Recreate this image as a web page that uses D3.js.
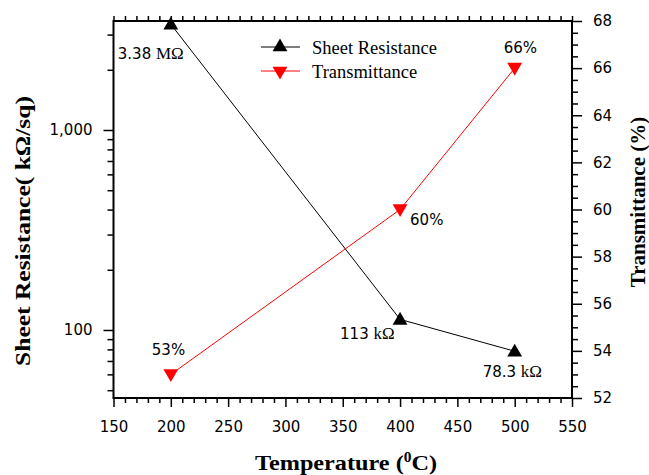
<!DOCTYPE html>
<html>
<head>
<meta charset="utf-8">
<script src="https://cdn.jsdelivr.net/npm/d3@7/dist/d3.min.js"></script>
<style>
  html, body { margin: 0; padding: 0; background: #fff; }
  svg { display: block; }
</style>
</head>
<body>
<svg id="chart" width="649" height="475"></svg>
<script>
// ---- data ----
const temperatures = [200, 400, 500];
const sheetResistance = [3380, 113, 78.3];          // kΩ/sq
const transmittance = [53, 60, 66];                  // %
const resistanceNumbers = ["3.38", "113", "78.3"];
const resistanceUnits = ["MΩ", "kΩ", "kΩ"];
const transmittanceLabels = ["53%", "60%", "66%"];
const xTickValues = [150, 200, 250, 300, 350, 400, 450, 500, 550];
const leftTickValues = [100, 1000];
const rightTickValues = [52, 54, 56, 58, 60, 62, 64, 66, 68];
const seriesNames = ["Sheet Resistance", "Transmittance"];

// ---- layout ----
const L = 113.5, R = 572, T = 21, B = 398;
const svg = d3.select("#chart");
const tickFont = "'DejaVu Sans', sans-serif";
const serif = "'Liberation Serif', 'Times New Roman', serif";

const x = d3.scaleLinear().domain([150, 550]).range([L, R]);
const yL = d3.scaleLog().domain([45.7, 3508]).range([B, T]);
const yR = d3.scaleLinear().domain([52, 68]).range([B, T]);

const minorX = d3.range(150, 551, 10).filter(v => v % 50 !== 0);
const minorL = [50, 60, 70, 80, 90, 200, 300, 400, 500, 600, 700, 800, 900, 2000, 3000];
const minorR = d3.range(52, 68.01, 0.5).filter(v => v % 2 !== 0);

function styleAxis(g) {
  g.select(".domain").remove();
  g.selectAll(".tick line").attr("stroke", "#000").attr("stroke-width", 1.5);
  g.selectAll(".tick text").attr("font-family", tickFont).attr("font-size", 15).attr("fill", "#000");
}

// bottom
svg.append("g").attr("transform", `translate(0,${B})`)
  .call(d3.axisBottom(x).tickValues(xTickValues).tickSize(9).tickFormat(d3.format("d")))
  .call(styleAxis)
  .call(g => g.selectAll(".tick text").attr("y", 34).attr("dy", 0));
svg.append("g").attr("transform", `translate(0,${B})`)
  .call(d3.axisBottom(x).tickValues(minorX).tickSize(5).tickFormat(""))
  .call(styleAxis);
// top
svg.append("g").attr("transform", `translate(0,${T})`)
  .call(d3.axisTop(x).tickValues(xTickValues.concat(minorX)).tickSize(5).tickFormat(""))
  .call(styleAxis);
// left
svg.append("g").attr("transform", `translate(${L},0)`)
  .call(d3.axisLeft(yL).tickValues(leftTickValues).tickSize(10).tickFormat(d3.format(",")))
  .call(styleAxis)
  .call(g => g.selectAll(".tick text").attr("x", -21));
svg.append("g").attr("transform", `translate(${L},0)`)
  .call(d3.axisLeft(yL).tickValues(minorL).tickSize(6).tickFormat(""))
  .call(styleAxis);
// right
svg.append("g").attr("transform", `translate(${R},0)`)
  .call(d3.axisRight(yR).tickValues(rightTickValues).tickSize(10).tickFormat(d3.format("d")))
  .call(styleAxis)
  .call(g => g.selectAll(".tick text").attr("x", 21));
svg.append("g").attr("transform", `translate(${R},0)`)
  .call(d3.axisRight(yR).tickValues(minorR).tickSize(6).tickFormat(""))
  .call(styleAxis);

// frame
svg.append("rect").attr("x", L).attr("y", T).attr("width", R - L).attr("height", B - T)
  .attr("fill", "none").attr("stroke", "#000").attr("stroke-width", 2);

// ---- series ----
const resData = temperatures.map((t, i) => ({ t, v: sheetResistance[i], n: resistanceNumbers[i], u: resistanceUnits[i] }));
const trData = temperatures.map((t, i) => ({ t, v: transmittance[i], l: transmittanceLabels[i] }));

svg.append("path").datum(resData)
  .attr("fill", "none").attr("stroke", "#000").attr("stroke-width", 1)
  .attr("d", d3.line().x(d => x(d.t)).y(d => yL(d.v)));
svg.append("path").datum(trData)
  .attr("fill", "none").attr("stroke", "#ff0000").attr("stroke-width", 1)
  .attr("d", d3.line().x(d => x(d.t)).y(d => yR(d.v)));

const tri = d3.symbol().type(d3.symbolTriangle).size(95);
svg.selectAll(".resMark").data(resData).join("path")
  .attr("transform", d => `translate(${x(d.t)},${yL(d.v) + 1})`)
  .attr("d", tri).attr("fill", "#000");
svg.selectAll(".trMark").data(trData).join("path")
  .attr("transform", d => `translate(${x(d.t)},${yR(d.v) - 1}) rotate(180)`)
  .attr("d", tri).attr("fill", "#ff0000");

// ---- annotations ----
const resOffsets = [[-53, 35], [-60, 20], [-32, 26]];
const resText = svg.selectAll(".resLab").data(resData).join("text")
  .attr("x", (d, i) => x(d.t) + resOffsets[i][0])
  .attr("y", (d, i) => yL(d.v) + resOffsets[i][1])
  .attr("font-size", 15).attr("fill", "#000");
resText.append("tspan").attr("font-family", tickFont).text(d => d.n + " ");
resText.append("tspan").attr("font-family", serif).attr("font-size", 17).text(d => d.u);

const trOffsets = [[-19, -19], [10, 15], [-11, -15]];
svg.selectAll(".trLab").data(trData).join("text")
  .attr("x", (d, i) => x(d.t) + trOffsets[i][0])
  .attr("y", (d, i) => yR(d.v) + trOffsets[i][1])
  .attr("font-family", tickFont).attr("font-size", 15).attr("fill", "#000")
  .text(d => d.l);

// ---- legend ----
const legend = svg.append("g");
const legendColors = ["#000", "#ff0000"];
seriesNames.forEach((name, i) => {
  const ly = 47 + i * 24;
  legend.append("line").attr("x1", 261).attr("x2", 300).attr("y1", ly).attr("y2", ly)
    .attr("stroke", legendColors[i]).attr("stroke-width", 1);
  legend.append("path").attr("d", tri)
    .attr("transform", `translate(280,${ly + (i === 0 ? 0 : 0)})` + (i === 1 ? " rotate(180)" : ""))
    .attr("fill", legendColors[i]);
  legend.append("text").attr("x", 312).attr("y", ly + 7)
    .attr("font-family", serif).attr("font-size", 18.5).attr("fill", "#000").text(name);
});

// ---- axis titles ----
const bt = svg.append("text").attr("x", 346).attr("y", 470).attr("text-anchor", "middle")
  .attr("font-family", serif).attr("font-weight", "bold").attr("font-size", 22)
  .attr("textLength", 182).attr("lengthAdjust", "spacingAndGlyphs");
bt.append("tspan").text("Temperature (");
bt.append("tspan").attr("font-size", 14).attr("dy", -8).text("0");
bt.append("tspan").attr("dy", 8).text("C)");

svg.append("text").attr("transform", "translate(30,231) rotate(-90)").attr("text-anchor", "middle")
  .attr("font-family", serif).attr("font-weight", "bold").attr("font-size", 22)
  .attr("textLength", 270).attr("lengthAdjust", "spacingAndGlyphs")
  .text("Sheet Resistance( kΩ/sq)");

svg.append("text").attr("transform", "translate(645,202) rotate(-90)").attr("text-anchor", "middle")
  .attr("font-family", serif).attr("font-weight", "bold").attr("font-size", 21)
  .text("Transmittance (%)");
</script>
</body>
</html>
